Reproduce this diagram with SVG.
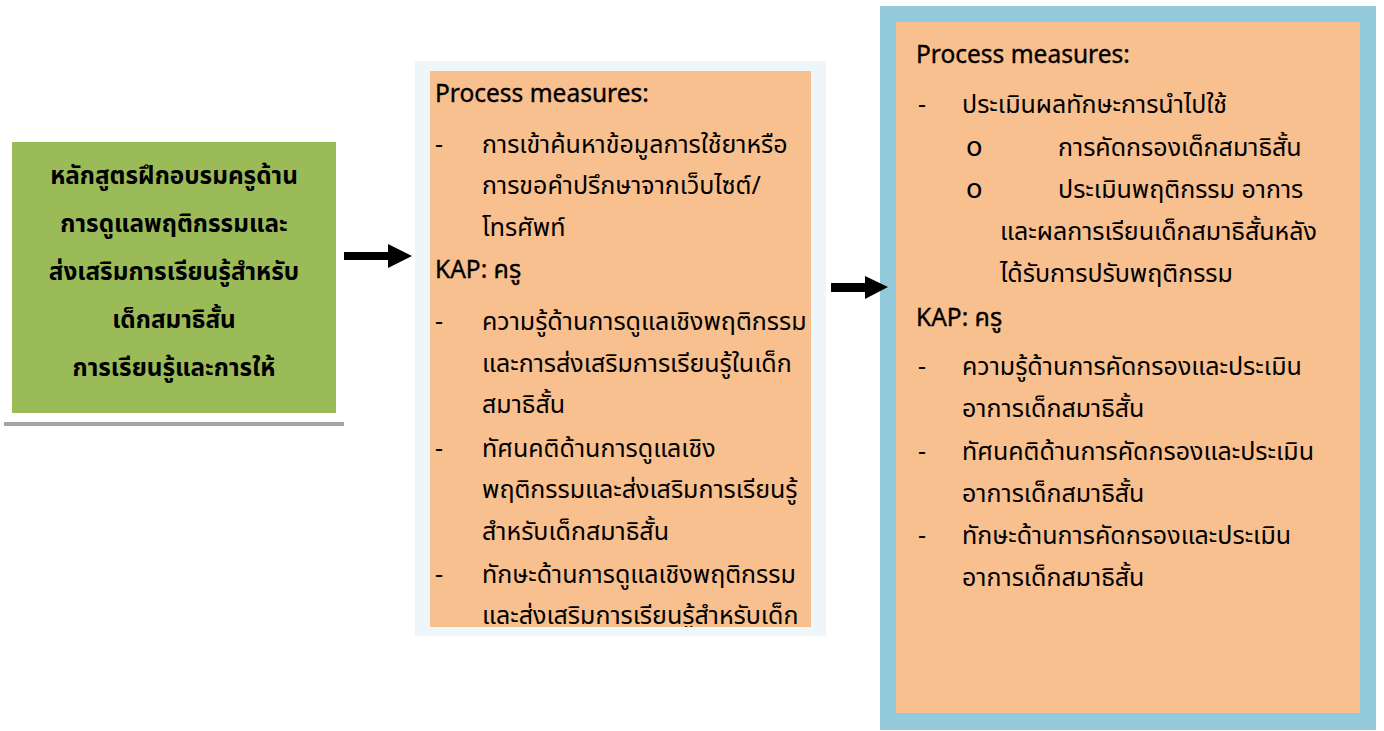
<svg xmlns="http://www.w3.org/2000/svg" width="1384" height="731" viewBox="0 0 1384 731">
<defs>
<style>
.t{font-family:"Noto Sans Thai","Noto Sans","Leelawadee UI",Tahoma,sans-serif;font-size:25px;fill:#000}
.h{font-family:"Noto Sans","Open Sans",sans-serif;font-size:24.5px;fill:#000;stroke:#000;stroke-width:0.35px}
.k{font-family:"Noto Sans Thai","Noto Sans",sans-serif;font-size:25px}
.g{font-family:"Noto Sans Thai","Noto Sans",Tahoma,sans-serif;font-size:24.3px;font-weight:bold;fill:#000;text-anchor:middle}
.orange{fill:#F8BF8F}
.b{font-family:"DejaVu Sans",sans-serif;font-size:27px;fill:#000}
</style>
<clipPath id="cg"><rect x="12" y="142" width="324" height="271"/></clipPath>
<clipPath id="cm"><rect x="430" y="71" width="381" height="556"/></clipPath>
<clipPath id="cr"><rect x="896" y="22" width="464" height="691"/></clipPath>
</defs>
<rect width="1384" height="731" fill="#fff"/>

<g id="node-training">
<rect x="4" y="422" width="340" height="4" fill="#A5A5A5"/>
<rect x="5" y="138" width="338" height="284" fill="#fff"/>
<rect x="12" y="142" width="324" height="271" fill="#9BBB59"/>
<g clip-path="url(#cg)">
<text class="g" x="174" y="184">หลักสูตรฝึกอบรมครูด้าน</text>
<text class="g" x="174" y="232">การดูแลพฤติกรรมและ</text>
<text class="g" x="174" y="280">ส่งเสริมการเรียนรู้สำหรับ</text>
<text class="g" x="174" y="328">เด็กสมาธิสั้น</text>
<text class="g" x="174" y="376">การเรียนรู้และการให้</text>
</g>
</g>

<g id="node-process-1">
<rect x="415" y="61" width="411" height="575" fill="#EEF6FA"/>
<rect class="orange" x="430" y="71" width="381" height="556"/>
<g clip-path="url(#cm)">
<text class="h" x="435" y="102">Process measures:</text>
<text class="t" x="435" y="153">-</text>
<text class="t" x="482" y="153">การเข้าค้นหาข้อมูลการใช้ยาหรือ</text>
<text class="t" x="482" y="194">การขอคำปรึกษาจากเว็บไซต์/</text>
<text class="t" x="482" y="236">โทรศัพท์</text>
<text class="h" x="435" y="278">KAP: <tspan class="k">ครู</tspan></text>
<text class="t" x="435" y="330">-</text>
<text class="t" x="482" y="330">ความรู้ด้านการดูแลเชิงพฤติกรรม</text>
<text class="t" x="482" y="372">และการส่งเสริมการเรียนรู้ในเด็ก</text>
<text class="t" x="482" y="413">สมาธิสั้น</text>
<text class="t" x="435" y="457">-</text>
<text class="t" x="482" y="457">ทัศนคติด้านการดูแลเชิง</text>
<text class="t" x="482" y="498">พฤติกรรมและส่งเสริมการเรียนรู้</text>
<text class="t" x="482" y="540">สำหรับเด็กสมาธิสั้น</text>
<text class="t" x="435" y="583">-</text>
<text class="t" x="482" y="583">ทักษะด้านการดูแลเชิงพฤติกรรม</text>
<text class="t" x="482" y="624">และส่งเสริมการเรียนรู้สำหรับเด็ก</text>
</g>
</g>

<g id="node-process-2">
<rect x="880" y="6" width="496" height="724" fill="#92CADC"/>
<rect class="orange" x="896" y="22" width="464" height="691"/>
<g clip-path="url(#cr)">
<text class="h" x="916" y="63">Process measures:</text>
<text class="t" x="918" y="113">-</text>
<text class="t" x="962" y="113">ประเมินผลทักษะการนำไปใช้</text>
<text class="b" x="966" y="156">o</text>
<text class="t" x="1058" y="156">การคัดกรองเด็กสมาธิสั้น</text>
<text class="b" x="966" y="198">o</text>
<text class="t" x="1058" y="198">ประเมินพฤติกรรม อาการ</text>
<text class="t" x="1000" y="240">และผลการเรียนเด็กสมาธิสั้นหลัง</text>
<text class="t" x="1000" y="282">ได้รับการปรับพฤติกรรม</text>
<text class="h" x="916" y="326">KAP: <tspan class="k">ครู</tspan></text>
<text class="t" x="918" y="375">-</text>
<text class="t" x="962" y="375">ความรู้ด้านการคัดกรองและประเมิน</text>
<text class="t" x="962" y="417">อาการเด็กสมาธิสั้น</text>
<text class="t" x="918" y="460">-</text>
<text class="t" x="962" y="460">ทัศนคติด้านการคัดกรองและประเมิน</text>
<text class="t" x="962" y="502">อาการเด็กสมาธิสั้น</text>
<text class="t" x="918" y="544">-</text>
<text class="t" x="962" y="544">ทักษะด้านการคัดกรองและประเมิน</text>
<text class="t" x="962" y="586">อาการเด็กสมาธิสั้น</text>
</g>
</g>

<g id="connectors" fill="#000">
<polygon points="344,252 388,252 388,244 412,256 388,268 388,260 344,260"/>
<polygon points="831,283 865,283 865,276 888,287 865,299 865,292 831,292"/>
</g>
</svg>
